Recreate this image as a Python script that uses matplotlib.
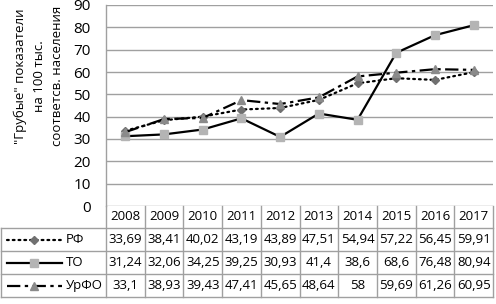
import numpy as np
import matplotlib.pyplot as plt
from matplotlib.lines import Line2D
from matplotlib.transforms import blended_transform_factory

# данные с графика
years = ['2008', '2009', '2010', '2011', '2012', '2013', '2014', '2015', '2016', '2017']
rf = [33.69, 38.41, 40.02, 43.19, 43.89, 47.51, 54.94, 57.22, 56.45, 59.91]
to = [31.24, 32.06, 34.25, 39.25, 30.93, 41.4, 38.6, 68.6, 76.48, 80.94]
urfo = [33.1, 38.93, 39.43, 47.41, 45.65, 48.64, 58, 59.69, 61.26, 60.95]
names = ['РФ', 'ТО', 'УрФО']
ylabel = '"Грубые" показатели\nна 100 тыс.\nсоответсв. населения'

plt.rcParams['font.family'] = ['Open Sans', 'DejaVu Sans']

styles = [
    dict(color='black', lw=1.6, linestyle=(0, (0.8, 1.8)), dash_capstyle='round',
         marker='D', ms=4.5, mfc='#707070', mec='#707070'),
    dict(color='black', lw=1.6, linestyle='-',
         marker='s', ms=6, mfc='#b4b4b4', mec='#b4b4b4'),
    dict(color='black', lw=1.6, linestyle=(0, (6, 2, 1.5, 2)),
         marker='^', ms=6, mfc='#8a8a8a', mec='#8a8a8a'),
]
series = [rf, to, urfo]
gridc = '#a0a0a0'

W, H = 496, 304
L, R, T, B = 106, 493, 5, 206
fig = plt.figure(figsize=(W / 100, H / 100), dpi=100)
ax = fig.add_axes([L / W, 1 - B / H, (R - L) / W, (B - T) / H])

x = np.arange(len(years))
for vals, st in zip(series, styles):
    ax.plot(x, vals, **st, clip_on=False, zorder=3)

ax.set_xlim(-0.5, len(years) - 0.5)
ax.set_ylim(0, 90)
ax.set_yticks(range(0, 91, 10))
ax.set_xticks([])
ax.tick_params(axis='y', length=0, pad=11, labelsize=11)
ax.yaxis.grid(True, color=gridc, lw=1)
ax.set_axisbelow(True)
for s in ['top', 'right', 'bottom']:
    ax.spines[s].set_visible(False)
ax.spines['left'].set_color(gridc)
ax.spines['left'].set_linewidth(1)

fig.text(39 / W, 1 - 76 / H, ylabel, rotation=90, ha='center', va='center',
         multialignment='center', fontsize=9.5, linespacing=1.55)

# таблица данных под графиком
tr = blended_transform_factory(ax.transData, fig.transFigure)
colw = (R - L) / len(years)

def dx(px):
    return (px - L) / colw - 0.5

def fy(py):
    return 1 - py / H

rows = [206, 228, 251, 274, 297]
def hline(x0, x1, py):
    fig.add_artist(Line2D([x0, x1], [fy(py), fy(py)], transform=tr, color=gridc, lw=1))

def vline(xx, p0, p1):
    fig.add_artist(Line2D([xx, xx], [fy(p0), fy(p1)], transform=tr, color=gridc, lw=1))

for py in rows[1:]:
    hline(dx(1), len(years) - 0.5, py)
for i in range(len(years) + 1):
    vline(i - 0.5, rows[0], rows[-1])
vline(dx(1), rows[1], rows[-1])

for i, yr in enumerate(years):
    fig.text(i, fy((rows[0] + rows[1]) / 2), yr, transform=tr, ha='center', va='center', fontsize=9.5)

for r, (vals, name, st) in enumerate(zip(series, names, styles)):
    yc = fy((rows[r + 1] + rows[r + 2]) / 2)
    for i, v in enumerate(vals):
        fig.text(i, yc, f'{v:g}'.replace('.', ','), transform=tr, ha='center', va='center', fontsize=9.5)
    fig.add_artist(Line2D([dx(7), dx(62)], [yc, yc], transform=tr,
                          color=st['color'], lw=st['lw'], linestyle=st['linestyle'],
                          dash_capstyle=st.get('dash_capstyle', 'butt')))
    fig.add_artist(Line2D([dx(34)], [yc], transform=tr, linestyle='none', marker=st['marker'],
                          ms=st['ms'] * 0.85, mfc=st['mfc'], mec=st['mec']))
    fig.text(dx(66), yc, name, transform=tr, ha='left', va='center', fontsize=9.5)

fig.savefig('out.png', dpi=100)
